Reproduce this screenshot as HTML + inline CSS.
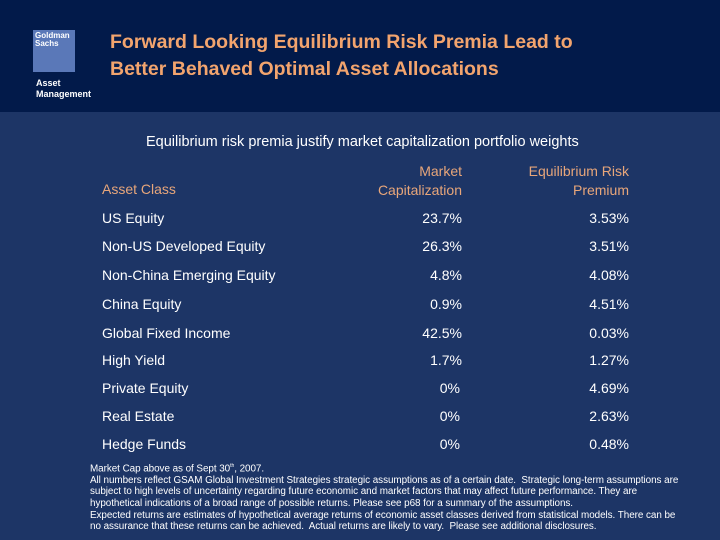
<!DOCTYPE html>
<html><head><meta charset="utf-8"><style>
body{margin:0;width:720px;height:540px;overflow:hidden;background:#1d3566;font-family:"Liberation Sans",sans-serif;position:relative}
.a{position:absolute;white-space:nowrap}
#hdr{position:absolute;left:0;top:0;width:720px;height:112px;background:#021a4a}
.t{color:#f2a46e;font-weight:bold;font-size:19.5px}
.r{color:#fff;font-size:14px}
.h{color:#e8a67a;font-size:14px}
.fn{color:#fff;font-size:9.9px;line-height:11.6px;left:90px;top:461px;letter-spacing:-0.05px}
</style></head><body>
<div id="hdr"></div>
<div class="a" style="left:33px;top:30px;width:42px;height:42px;background:#5a78b8;color:#fff;font-size:8px;line-height:8px;font-weight:bold;padding:2px;box-sizing:border-box">Goldman<br>Sachs</div>
<div class="a" style="left:36px;top:78px;color:#fff;font-size:9px;font-weight:bold;line-height:11px">Asset<br>Management</div>
<div class="a t" style="left:110px;top:29px;line-height:27px">Forward Looking Equilibrium Risk Premia Lead to<br>Better Behaved Optimal Asset Allocations</div>
<div class="a r" style="left:146px;top:134px;font-size:14.5px">Equilibrium risk premia justify market capitalization portfolio weights</div>
<div class="a h" style="left:102px;top:181px">Asset Class</div>
<div class="a h" style="right:258px;top:162px;text-align:right;line-height:19px">Market<br>Capitalization</div>
<div class="a h" style="right:91px;top:162px;text-align:right;line-height:19px">Equilibrium Risk<br>Premium</div>
<div id="rows"></div>
<div class="a fn">Market Cap above as of Sept 30<sup style="font-size:5px">th</sup>, 2007.<br>All numbers reflect GSAM Global Investment Strategies strategic assumptions as of a certain date.&nbsp; Strategic long-term assumptions are<br>subject to high levels of uncertainty regarding future economic and market factors that may affect future performance. They are<br>hypothetical indications of a broad range of possible returns. Please see p68 for a summary of the assumptions.<br>Expected returns are estimates of hypothetical average returns of economic asset classes derived from statistical models. There can be<br>no assurance that these returns can be achieved.&nbsp; Actual returns are likely to vary.&nbsp; Please see additional disclosures.</div>
<script>
const assetClasses=["US Equity","Non-US Developed Equity","Non-China Emerging Equity","China Equity","Global Fixed Income","High Yield","Private Equity","Real Estate","Hedge Funds"];
const marketCaps=["23.7%","26.3%","4.8%","0.9%","42.5%","1.7%","0%","0%","0%"];
const riskPremia=["3.53%","3.51%","4.08%","4.51%","0.03%","1.27%","4.69%","2.63%","0.48%"];
const rowTops=[210,238,267,296,325,352,380,408,436];
const host=document.getElementById('rows');
assetClasses.forEach((n,i)=>{
 const y=rowTops[i];
 const a=document.createElement('div');a.className='a r';a.style.left='102px';a.style.top=y+'px';a.textContent=n;
 
 
 const b=document.createElement('div');b.className='a r';b.style.right=(i>=6?260:258)+'px';b.style.top=y+'px';b.textContent=marketCaps[i];
 
 
 const c=document.createElement('div');c.className='a r';c.style.right='91px';c.style.top=y+'px';c.textContent=riskPremia[i];
 
 
 host.append(a,b,c);
});
</script>
</body></html>
